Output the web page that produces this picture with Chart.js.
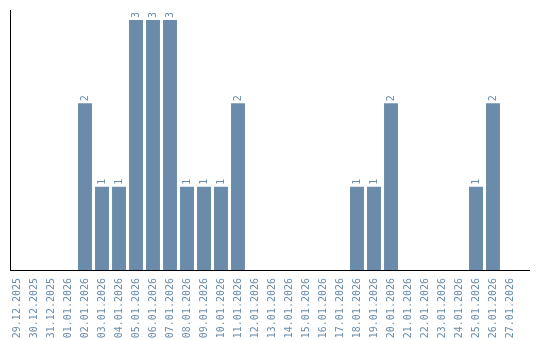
<!DOCTYPE html>
<html>
<head>
<meta charset="utf-8">
<script src="https://cdn.jsdelivr.net/npm/chart.js@4/dist/chart.umd.min.js"></script>
<style>
  html, body { margin: 0; padding: 0; background: #fff; }
  #wrap { width: 540px; height: 340px; }
</style>
</head>
<body>
<div id="wrap"><canvas id="chart" width="540" height="340"></canvas></div>
<script>
const days = [
  "29.12.2025", "30.12.2025", "31.12.2025", "01.01.2026", "02.01.2026",
  "03.01.2026", "04.01.2026", "05.01.2026", "06.01.2026", "07.01.2026",
  "08.01.2026", "09.01.2026", "10.01.2026", "11.01.2026", "12.01.2026",
  "13.01.2026", "14.01.2026", "15.01.2026", "16.01.2026", "17.01.2026",
  "18.01.2026", "19.01.2026", "20.01.2026", "21.01.2026", "22.01.2026",
  "23.01.2026", "24.01.2026", "25.01.2026", "26.01.2026", "27.01.2026"
];
const counts = [0, 0, 0, 0, 2, 1, 1, 3, 3, 3, 1, 1, 1, 2, 0, 0, 0, 0, 0, 0, 1, 1, 2, 0, 0, 0, 0, 1, 2, 0];

const barColor = "#6a8caa";
const monoFont = "'DejaVu Sans Mono', 'Liberation Mono', monospace";

// axis lines: the frame runs a bit wider than the bar area
const axisLines = {
  id: "axisLines",
  afterDraw(chart) {
    const ctx = chart.ctx;
    const bottom = chart.chartArea.bottom;
    ctx.save();
    ctx.strokeStyle = "#000";
    ctx.lineWidth = 1;
    ctx.beginPath();
    ctx.moveTo(10.5, chart.chartArea.top);
    ctx.lineTo(10.5, bottom + 0.5);
    ctx.moveTo(10, bottom + 0.5);
    ctx.lineTo(530, bottom + 0.5);
    ctx.stroke();
    ctx.restore();
  }
};

// rotated value above each non-zero bar
const valueLabels = {
  id: "valueLabels",
  afterDatasetsDraw(chart) {
    const ctx = chart.ctx;
    const meta = chart.getDatasetMeta(0);
    ctx.save();
    ctx.fillStyle = barColor;
    ctx.font = "10px " + monoFont;
    ctx.textAlign = "left";
    ctx.textBaseline = "middle";
    meta.data.forEach((bar, i) => {
      if (!counts[i]) return;
      ctx.save();
      ctx.translate(bar.x, bar.y - 2);
      ctx.rotate(-Math.PI / 2);
      ctx.fillText(String(counts[i]), 0, 0);
      ctx.restore();
    });
    ctx.restore();
  }
};

function createChart() {
  const ctx = document.getElementById("chart").getContext("2d");
  new Chart(ctx, {
    type: "bar",
    data: {
      labels: days,
      datasets: [{ data: counts, backgroundColor: barColor, categoryPercentage: 1, barPercentage: 0.82 }]
    },
    options: {
      responsive: false,
      animation: false,
      layout: { padding: { left: 8.5, right: 21.5, top: 10, bottom: 0 } },
      plugins: { legend: { display: false }, tooltip: { enabled: false } },
      scales: {
        x: {
          grid: { display: false },
          border: { display: false },
          ticks: {
            color: barColor,
            font: { family: monoFont, size: 10 },
            minRotation: 90,
            maxRotation: 90,
            autoSkip: false,
            padding: 0
          },
          afterFit(scale) { scale.height = 70; }
        },
        y: {
          min: 0,
          max: 3.12,
          grid: { display: false },
          border: { display: false },
          ticks: { display: false },
          afterFit(scale) { scale.width = 0; }
        }
      }
    },
    plugins: [valueLabels, axisLines]
  });
}

createChart();
</script>
</body>
</html>
